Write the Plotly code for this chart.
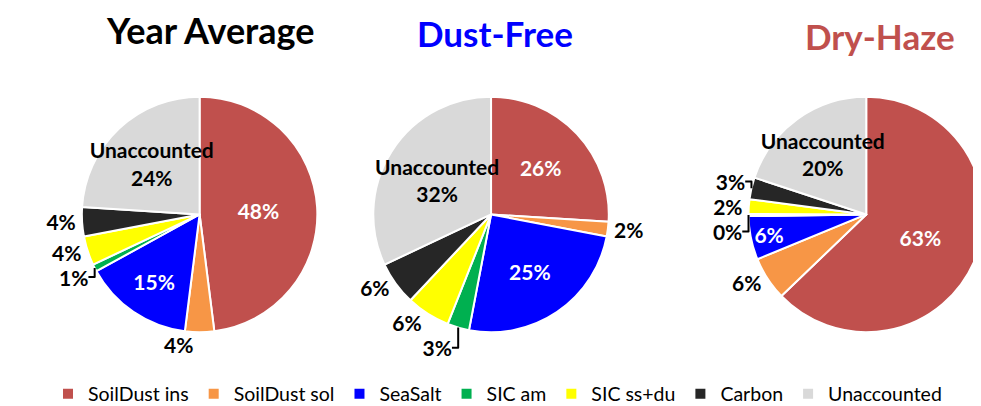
import plotly.graph_objects as go

categories = ["SoilDust ins", "SoilDust sol", "SeaSalt", "SIC am", "SIC ss+du", "Carbon", "Unaccounted"]
year_average = [48, 4, 15, 1, 4, 4, 24]
dust_free = [26, 2, 25, 3, 6, 6, 32]
dry_haze = [63, 6, 6, 0.3, 2, 3, 20]
titles = ["Year Average", "Dust-Free", "Dry-Haze"]
title_colors = ["#000000", "#0000FF", "#C0504D"]
title_sizes = [36, 35, 35]

colors = ["#C0504D", "#F79646", "#0000FF", "#00B050", "#FFFF00", "#262626", "#D9D9D9"]
FONT = "Lato"
LABEL_SIZE = 21

inside_cats = {"SoilDust ins", "SeaSalt", "Unaccounted"}
white_cats = {"SoilDust ins", "SeaSalt"}
domains = [
    dict(x=[0.0754, 0.316], y=[0.1995, 0.781]),
    dict(x=[0.3731, 0.6137], y=[0.1995, 0.781]),
    dict(x=[0.7564, 0.9969], y=[0.1995, 0.781]),
]
title_pos = [(0.2069, 0.945), (0.4975, 0.938), (0.891, 0.931)]

fig = go.Figure()
for i, vals in enumerate([year_average, dust_free, dry_haze]):
    pos = ["inside" if c in inside_cats else "outside" for c in categories]
    tmpl = ["%{label}<br>%{value:.0f}%" if c == "Unaccounted" else "%{value:.0f}%" for c in categories]
    tcol = ["#FFFFFF" if c in white_cats else "#000000" for c in categories]
    fig.add_trace(go.Pie(
        labels=categories, values=vals, sort=False, direction="clockwise", rotation=0,
        marker=dict(colors=colors, line=dict(color="#FFFFFF", width=2)),
        textposition=pos, texttemplate=tmpl,
        textfont=dict(family=FONT, size=LABEL_SIZE, color=tcol, weight="bold"),
        insidetextorientation="horizontal",
        domain=domains[i], showlegend=(i == 0), hoverinfo="label+percent",
    ))

annotations = []
for t, c, s, (x, y) in zip(titles, title_colors, title_sizes, title_pos):
    annotations.append(dict(text="<b>%s</b>" % t, x=x, y=y, xref="paper", yref="paper",
                            xanchor="center", yanchor="middle",
                            showarrow=False, font=dict(family=FONT, size=s, color=c)))

fig.update_layout(
    width=981, height=406,
    margin=dict(l=0, r=0, t=0, b=0),
    paper_bgcolor="white", plot_bgcolor="white",
    font=dict(family=FONT, color="#000000"),
    annotations=annotations,
    uniformtext=dict(minsize=LABEL_SIZE, mode="show"),
    legend=dict(orientation="h", x=0.5, xanchor="center", y=0.0468, yanchor="middle",
                font=dict(family=FONT, size=19.5, color="#000000"), traceorder="normal"),
)
fig.write_html("out.html")
